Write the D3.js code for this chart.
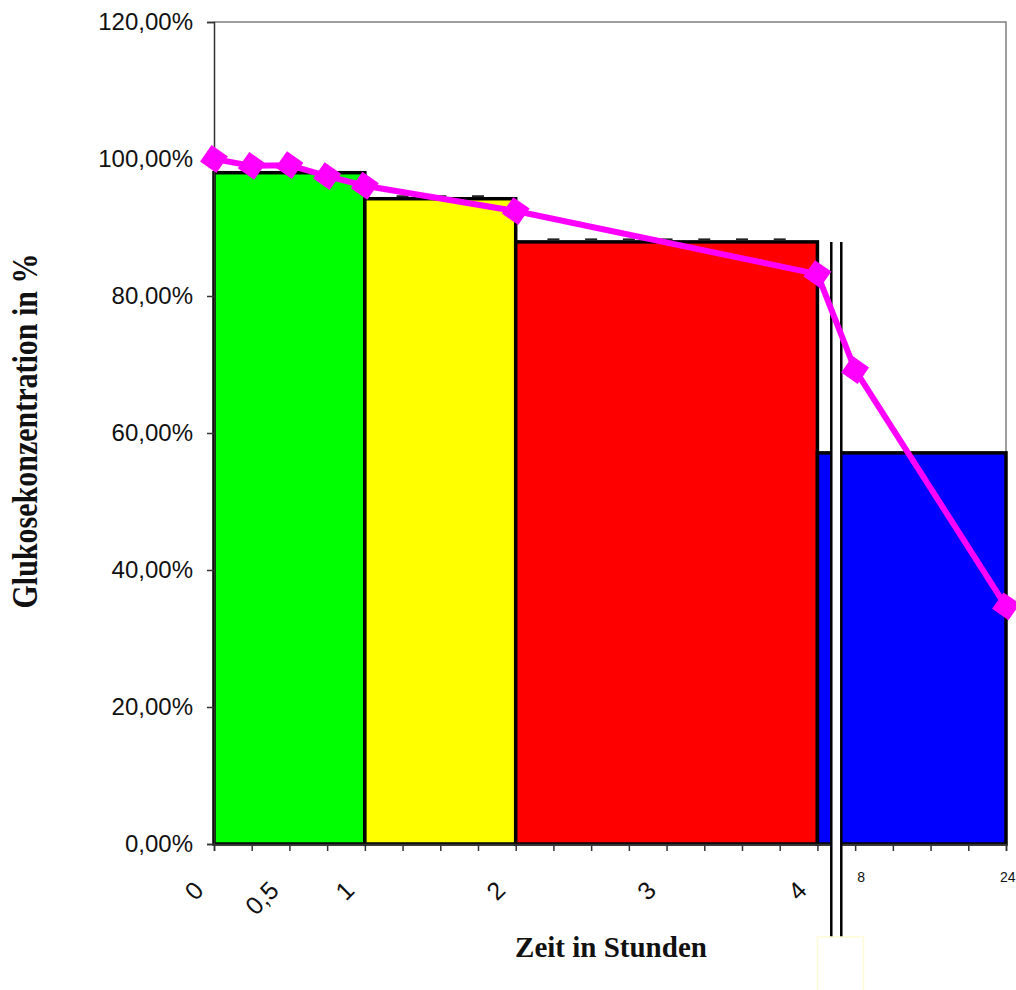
<!DOCTYPE html>
<html>
<head>
<meta charset="utf-8">
<script src="https://cdn.jsdelivr.net/npm/d3@7"></script>
<style>
  body { margin: 0; background: white; }
  svg { display: block; }
</style>
</head>
<body>
<div id="chart"></div>
<script>
// categories on the x axis (quarter hours up to 4, then 8 .. 24)
let categories = ["0", "0,25", "0,5", "0,75", "1", "1,25", "1,5", "1,75", "2", "2,25", "2,5", "2,75",
    "3", "3,25", "3,5", "3,75", "4", "8", "9", "10", "11", "24"];
let rotatedLabels = ["0", "0,5", "1", "2", "3", "4"];
let smallLabels = ["8", "24"];

// glucose bars: from / to category, value
let barStart = ["0", "1", "2", "4"];
let barEnd = ["1", "2", "4", "24"];
let barValue = [0.98, 0.942, 0.879, 0.571];
let barColor = ["#00ff00", "#ffff00", "#ff0000", "#0000ff"];

// measured glucose line
let lineCats = ["0", "0,25", "0,5", "0,75", "1", "2", "4", "8", "24"];
let lineValue = [1.0, 0.99, 0.991, 0.975, 0.961, 0.924, 0.832, 0.692, 0.347];

let yTicks = [0, 0.2, 0.4, 0.6, 0.8, 1.0, 1.2];

let width = 1016, height = 990;
let margin = {left: 214, right: 10, top: 22, bottom: 146};

let svg = d3.select("#chart")
    .append("svg")
    .attr("width", width)
    .attr("height", height);

let x = d3.scalePoint()
    .domain(categories)
    .range([margin.left, width - margin.right]);

let y = d3.scaleLinear()
    .domain([0, 1.2])
    .range([height - margin.bottom, margin.top]);

let fmt = function(v) { return d3.format(".2f")(v * 100).replace(".", ",") + "%"; };

// plot area frame (top + right, gray)
svg.append("path")
    .attr("d", `M${x.range()[0]},${y(1.2)}H${x.range()[1]}V${y(0)}`)
    .attr("fill", "none")
    .attr("stroke", "#808080")
    .attr("stroke-width", 1.5);

// bars
let bars = barValue.map(function(v, i) {
    return {start: barStart[i], end: barEnd[i], value: v, color: barColor[i]};
});

svg.append("g")
    .selectAll("rect")
    .data(bars)
    .enter()
    .append("rect")
    .attr("x", function(d) { return x(d.start); })
    .attr("y", function(d) { return y(d.value); })
    .attr("width", function(d) { return x(d.end) - x(d.start); })
    .attr("height", function(d) { return y(0) - y(d.value); })
    .attr("fill", function(d) { return d.color; })
    .attr("stroke", "black")
    .attr("stroke-width", 3.5);

// small caps at the top of each inner category
let caps = [];
bars.forEach(function(b) {
    if (b.end === "24") return;
    let i0 = categories.indexOf(b.start), i1 = categories.indexOf(b.end);
    for (let i = i0 + 1; i < i1; i++) caps.push({cat: categories[i], value: b.value});
});
svg.append("g")
    .selectAll("rect")
    .data(caps)
    .enter()
    .append("rect")
    .attr("x", function(d) { return x(d.cat) - 6; })
    .attr("y", function(d) { return y(d.value) - 3.5; })
    .attr("width", 12)
    .attr("height", 2)
    .attr("fill", "#222");

// axes
let yAxis = d3.axisLeft(y)
    .tickValues(yTicks)
    .tickSize(7)
    .tickFormat(fmt);

let gy = svg.append("g")
    .attr("transform", `translate(${margin.left},0)`)
    .call(yAxis);
gy.select(".domain").attr("stroke", "#333").attr("stroke-width", 1.5);
gy.selectAll(".tick line").attr("stroke", "#333").attr("stroke-width", 1.5);
gy.selectAll(".tick text")
    .attr("x", -21)
    .style("font-family", "'Liberation Sans', Arial, sans-serif")
    .style("font-size", "24px")
    .attr("fill", "#111");

let xAxis = d3.axisBottom(x)
    .tickSize(7)
    .tickFormat("");

let gx = svg.append("g")
    .attr("transform", `translate(0,${y(0)})`)
    .call(xAxis);
gx.select(".domain").attr("stroke", "#333").attr("stroke-width", 1.5);
gx.selectAll(".tick line").attr("stroke", "#333").attr("stroke-width", 1.5);

// rotated hour labels
svg.append("g")
    .selectAll("text")
    .data(rotatedLabels)
    .enter()
    .append("text")
    .attr("transform", function(d) { return `translate(${x(d) - 9},${y(0) + 48}) rotate(-45)`; })
    .attr("text-anchor", "end")
    .style("font-family", "'Liberation Sans', Arial, sans-serif")
    .style("font-size", "25px")
    .attr("fill", "#111")
    .text(function(d) { return d; });

// small labels 8 / 24
svg.append("g")
    .selectAll("text")
    .data(smallLabels)
    .enter()
    .append("text")
    .attr("x", function(d) { return x(d) + (d === "24" ? -6 : 2); })
    .attr("y", y(0) + 38)
    .style("font-family", "'Liberation Sans', Arial, sans-serif")
    .style("font-size", "14px")
    .attr("fill", "#111")
    .text(function(d) { return d; });

// axis break between 4 and 8
let breakX = (x("4") + x("8")) / 2;
let brk = svg.append("g");
brk.append("rect")
    .attr("x", breakX - 5)
    .attr("y", y(barValue[2]))
    .attr("width", 10)
    .attr("height", y(0) - y(barValue[2]) + 93)
    .attr("fill", "white");
[-5, 5].forEach(function(o) {
    brk.append("line")
        .attr("x1", breakX + o).attr("x2", breakX + o)
        .attr("y1", y(barValue[2]))
        .attr("y2", y(0) + 93)
        .attr("stroke", "black")
        .attr("stroke-width", 2.5);
});
brk.append("rect")
    .attr("x", x("4"))
    .attr("y", y(0) + 93)
    .attr("width", 46)
    .attr("height", 60)
    .attr("fill", "none")
    .attr("stroke", "#fffbd6")
    .attr("stroke-width", 1.5);

// line with diamond markers
let points = lineValue.map(function(v, i) { return {cat: lineCats[i], value: v}; });

svg.append("path")
    .datum(points)
    .attr("fill", "none")
    .attr("stroke", "#ff00ff")
    .attr("stroke-width", 6)
    .attr("d", d3.line()
        .x(function(d) { return x(d.cat); })
        .y(function(d) { return y(d.value); }));

svg.append("g")
    .selectAll("rect")
    .data(points)
    .enter()
    .append("rect")
    .attr("x", -10)
    .attr("y", -10)
    .attr("width", 20)
    .attr("height", 20)
    .attr("fill", "#ff00ff")
    .attr("transform", function(d) { return `translate(${x(d.cat)},${y(d.value)}) rotate(35)`; });

// axis titles
svg.append("text")
    .attr("transform", `translate(37,431) rotate(-90) scale(1,1.2)`)
    .attr("text-anchor", "middle")
    .style("font-family", "'Liberation Serif', 'Times New Roman', serif")
    .style("font-weight", "bold")
    .style("font-size", "30px")
    .attr("fill", "#111")
    .text("Glukosekonzentration in %");

svg.append("text")
    .attr("x", 611)
    .attr("y", 957)
    .attr("text-anchor", "middle")
    .style("font-family", "'Liberation Serif', 'Times New Roman', serif")
    .style("font-weight", "bold")
    .style("font-size", "29px")
    .attr("fill", "#111")
    .text("Zeit in Stunden");
</script>
</body>
</html>
